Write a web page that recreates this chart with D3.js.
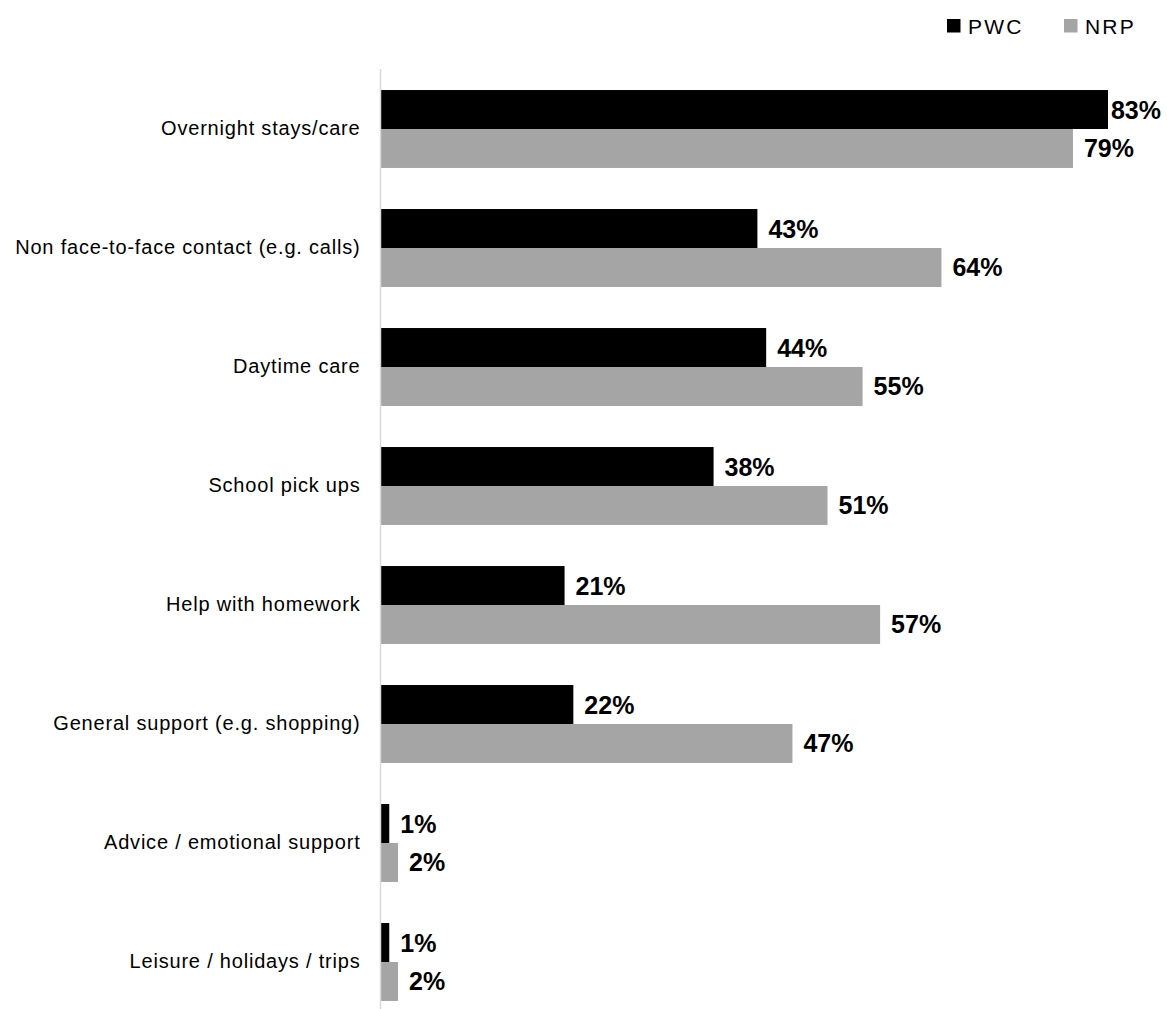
<!DOCTYPE html>
<html>
<head>
<meta charset="utf-8">
<script src="https://cdn.jsdelivr.net/npm/d3@7"></script>
<style>
  body { margin: 0; background: #fff; }
  text { font-family: "Liberation Sans", Arial, sans-serif; }
</style>
</head>
<body>
<svg id="chart" width="1167" height="1009"></svg>
<script>
// Support types given, by group
const categories = [
  "Overnight stays/care",
  "Non face-to-face contact (e.g. calls)",
  "Daytime care",
  "School pick ups",
  "Help with homework",
  "General support (e.g. shopping)",
  "Advice / emotional support",
  "Leisure / holidays / trips"
];
const seriesNames = ["PWC", "NRP"];
const pwcValues = [83, 43, 44, 38, 21, 22, 1, 1];
const nrpValues = [79, 64, 55, 51, 57, 47, 2, 2];
const seriesColors = ["#000000", "#a5a5a5"];

const svg = d3.select("#chart");
const W = 1167;
const axisX = 380.5;

const x = d3.scaleLinear().domain([0, 83]).range([axisX, 1108]);
const y = d3.scaleBand().domain(categories).range([69.5, 1021.5])
  .paddingInner(0.345).paddingOuter(0.1725);
const sub = d3.scaleBand().domain(seriesNames).range([0, y.bandwidth()]);

const rows = categories.map((c, i) => ({ cat: c, values: [
  { key: "PWC", v: pwcValues[i] }, { key: "NRP", v: nrpValues[i] }
]}));

const g = svg.append("g");
const groups = g.selectAll("g.cat").data(rows).join("g")
  .attr("transform", d => `translate(0,${y(d.cat)})`);

groups.selectAll("rect").data(d => d.values).join("rect")
  .attr("x", axisX)
  .attr("y", d => sub(d.key))
  .attr("height", sub.bandwidth())
  .attr("width", d => x(d.v) - axisX)
  .attr("fill", (d, i) => seriesColors[i]);

// value labels, kept inside the canvas
groups.selectAll("text.val").data(d => d.values).join("text")
  .attr("class", "val")
  .attr("y", d => sub(d.key) + sub.bandwidth() / 2)
  .attr("dy", "0.36em")
  .attr("font-size", 25)
  .attr("font-weight", "bold")
  .text(d => d.v + "%")
  .each(function(d) {
    const w = this.getComputedTextLength();
    const xx = Math.min(x(d.v) + 11, W - 6 - w);
    d3.select(this).attr("x", xx);
  });

// category axis
const axis = d3.axisLeft(y).tickSize(0).tickPadding(20);
const ax = svg.append("g").attr("transform", `translate(${axisX},0)`).call(axis);
ax.select(".domain").remove();
ax.selectAll("text")
  .attr("font-size", 20)
  .attr("fill", "#000")
  .attr("dy", "0.3em")
  .style("letter-spacing", "0.8px")
  .style("font-family", "'Liberation Sans', Arial, sans-serif");
svg.append("line")
  .attr("x1", axisX).attr("x2", axisX)
  .attr("y1", 69).attr("y2", 1009)
  .attr("stroke", "#d9d9d9").attr("stroke-width", 1.5);

// legend
const legendX = [947, 1064];
const leg = svg.append("g").selectAll("g").data(seriesNames).join("g")
  .attr("transform", (d, i) => `translate(${legendX[i]},19)`);
leg.append("rect").attr("width", 13.5).attr("height", 13.5)
  .attr("fill", (d, i) => seriesColors[i]);
leg.append("text").attr("x", 21).attr("y", 7).attr("dy", "0.36em")
  .attr("font-size", 21).style("letter-spacing", "2.2px").text(d => d);
</script>
</body>
</html>
